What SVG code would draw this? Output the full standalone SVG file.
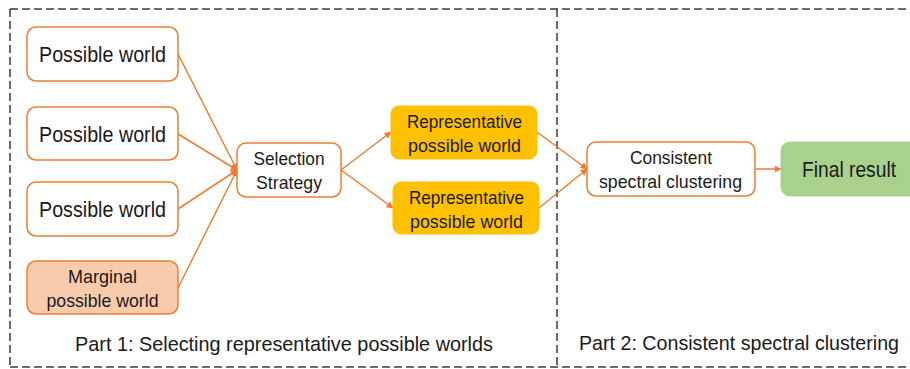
<svg xmlns="http://www.w3.org/2000/svg" width="910" height="369" viewBox="0 0 910 369">
  <style>
    .frame { fill: none; stroke: #3a3a3a; stroke-width: 1.5; stroke-dasharray: 8 4; }
    .box { stroke: #ED7D31; stroke-width: 1.5; }
    .white { fill: #FFFFFF; }
    .peach { fill: #F8CBAD; }
    .gold { fill: #FFC000; stroke: #FFC000; }
    .green { fill: #A9D18E; stroke: #A9D18E; }
    text { font-family: "Liberation Sans", Arial, sans-serif; fill: #1a1a1a; text-anchor: middle; }
    .big { font-size: 21.5px; }
    .part { font-size: 19.8px; }
    .mid { font-size: 18.5px; }
    .edge { stroke: #ED7D31; stroke-width: 1.5; fill: none; marker-end: url(#arrow); }
  </style>
  <defs>
    <marker id="arrow" viewBox="0 0 10 10" refX="9" refY="5" markerWidth="7" markerHeight="7" markerUnits="userSpaceOnUse" orient="auto">
      <path d="M0,0 L10,5 L0,10 z" fill="#ED7D31"/>
    </marker>
  </defs>
  <rect width="910" height="369" fill="#FFFFFF"/>

  <!-- dashed section frames -->
  <g id="frames">
    <line class="frame" x1="10" y1="9" x2="910" y2="9"/>
    <line class="frame" x1="10" y1="367" x2="910" y2="367"/>
    <line class="frame" x1="10" y1="9" x2="10" y2="367"/>
    <line class="frame" x1="557" y1="9" x2="557" y2="367"/>
    <text class="part" x="284" y="351" textLength="418" lengthAdjust="spacingAndGlyphs">Part 1: Selecting representative possible worlds</text>
    <text class="part" x="739" y="350" textLength="320" lengthAdjust="spacingAndGlyphs">Part 2: Consistent spectral clustering</text>
  </g>

  <!-- connectors -->
  <g id="connectors">
    <line class="edge" x1="178" y1="54" x2="237" y2="170"/>
    <line class="edge" x1="178" y1="134" x2="237" y2="170"/>
    <line class="edge" x1="178" y1="209" x2="237" y2="170"/>
    <line class="edge" x1="178" y1="288" x2="237" y2="170"/>
    <line class="edge" x1="341" y1="170" x2="391" y2="132"/>
    <line class="edge" x1="341" y1="170" x2="393" y2="208"/>
    <line class="edge" x1="537" y1="132" x2="587" y2="169"/>
    <line class="edge" x1="539" y1="208" x2="587" y2="169"/>
    <line class="edge" x1="755" y1="169" x2="781" y2="169"/>
  </g>

  <g id="pw1">
    <rect class="box white" x="27" y="27" width="151" height="54" rx="9"/>
    <text class="big" x="102.5" y="62" textLength="127" lengthAdjust="spacingAndGlyphs">Possible world</text>
  </g>
  <g id="pw2">
    <rect class="box white" x="27" y="107" width="151" height="53" rx="9"/>
    <text class="big" x="102.5" y="142" textLength="127" lengthAdjust="spacingAndGlyphs">Possible world</text>
  </g>
  <g id="pw3">
    <rect class="box white" x="27" y="182" width="151" height="54" rx="9"/>
    <text class="big" x="102.5" y="217" textLength="127" lengthAdjust="spacingAndGlyphs">Possible world</text>
  </g>
  <g id="marginal">
    <rect class="box peach" x="27" y="261" width="151" height="53" rx="9"/>
    <text class="mid" x="102.5" y="283" textLength="69" lengthAdjust="spacingAndGlyphs">Marginal</text>
    <text class="mid" x="102.5" y="307" textLength="112" lengthAdjust="spacingAndGlyphs">possible world</text>
  </g>

  <g id="selection">
    <rect class="box white" x="237" y="143" width="104" height="54" rx="9"/>
    <text class="mid" x="289" y="165" textLength="71" lengthAdjust="spacingAndGlyphs">Selection</text>
    <text class="mid" x="289" y="189" textLength="66" lengthAdjust="spacingAndGlyphs">Strategy</text>
  </g>

  <g id="rep1">
    <rect class="gold" x="391" y="106" width="146" height="53" rx="8"/>
    <text class="mid" x="464.5" y="128" textLength="115" lengthAdjust="spacingAndGlyphs">Representative</text>
    <text class="mid" x="464.5" y="152" textLength="113" lengthAdjust="spacingAndGlyphs">possible world</text>
  </g>
  <g id="rep2">
    <rect class="gold" x="393" y="182" width="146" height="52" rx="8"/>
    <text class="mid" x="466.5" y="204" textLength="115" lengthAdjust="spacingAndGlyphs">Representative</text>
    <text class="mid" x="466.5" y="228" textLength="113" lengthAdjust="spacingAndGlyphs">possible world</text>
  </g>

  <g id="consistent">
    <rect class="box white" x="587" y="142" width="168" height="54" rx="9"/>
    <text class="mid" x="671" y="164" textLength="82" lengthAdjust="spacingAndGlyphs">Consistent</text>
    <text class="mid" x="670.5" y="188" textLength="143" lengthAdjust="spacingAndGlyphs">spectral clustering</text>
  </g>

  <g id="final">
    <rect class="green" x="781" y="142" width="140" height="54" rx="9"/>
    <text class="big" x="849" y="177" textLength="94" lengthAdjust="spacingAndGlyphs">Final result</text>
  </g>
</svg>
